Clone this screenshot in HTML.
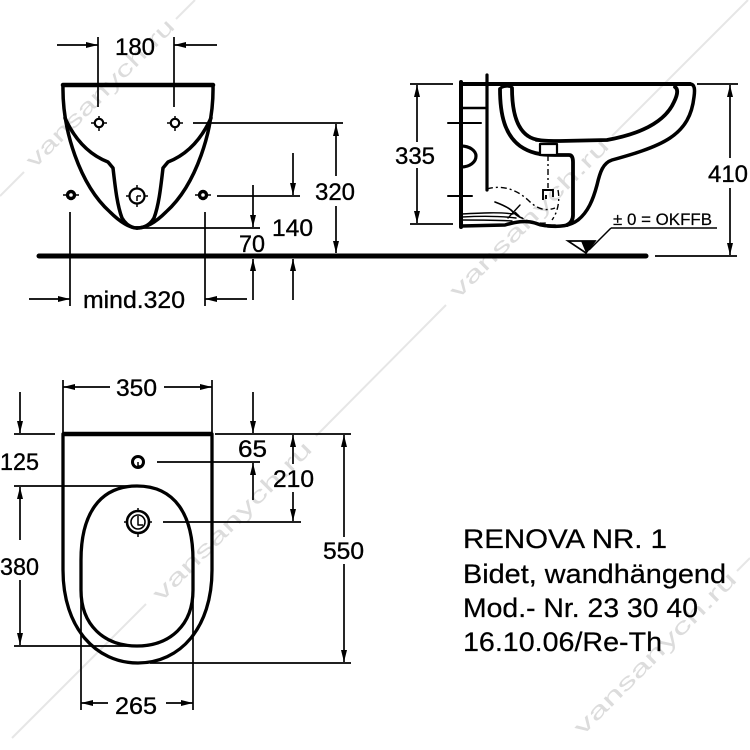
<!DOCTYPE html>
<html>
<head>
<meta charset="utf-8">
<style>
  html,body{margin:0;padding:0;background:#fff;}
  svg{display:block;}
</style>
</head>
<body>
<svg width="750" height="750" viewBox="0 0 750 750" xmlns="http://www.w3.org/2000/svg" font-family="'Liberation Sans', Arial, sans-serif">
  <defs>
    <marker id="a" viewBox="0 0 12 6" refX="12" refY="3" markerWidth="12" markerHeight="6" markerUnits="userSpaceOnUse" orient="auto">
      <path d="M0,0 L12,3 L0,6 z" fill="#000"/>
    </marker>
  </defs>
  <rect width="750" height="750" fill="#fff"/>

  <!-- watermarks -->
  <g stroke="#e6e6e6" stroke-width="2" fill="none">
    <line x1="0" y1="196" x2="24" y2="172"/>
    <line x1="176" y1="19" x2="195" y2="0"/>
    <line x1="12" y1="738" x2="146" y2="604"/>
    <line x1="316" y1="436" x2="446" y2="305"/>
    <line x1="612" y1="136" x2="748" y2="0"/>
    <line x1="737" y1="571" x2="750" y2="558"/>
  </g>
  <g fill="#dcdcdc" font-size="22">
    <text x="100" y="93" text-anchor="middle" dominant-baseline="central" transform="rotate(-45 100 93)" textLength="200" lengthAdjust="spacingAndGlyphs">vansanych.ru</text>
    <text x="232" y="521" text-anchor="middle" dominant-baseline="central" transform="rotate(-45 232 521)" textLength="215" lengthAdjust="spacingAndGlyphs">vansanych.ru</text>
    <text x="529" y="218" text-anchor="middle" dominant-baseline="central" transform="rotate(-45 529 218)" textLength="215" lengthAdjust="spacingAndGlyphs">vansanych.ru</text>
    <text x="655" y="653" text-anchor="middle" dominant-baseline="central" transform="rotate(-45 655 653)" textLength="220" lengthAdjust="spacingAndGlyphs">vansanych.ru</text>
  </g>

  <!-- ================= FRONT VIEW ================= -->
  <g stroke="#000" fill="none" stroke-width="1.7">
    <!-- 180 -->
    <line x1="57" y1="45" x2="98" y2="45" marker-end="url(#a)"/>
    <line x1="217" y1="45" x2="174" y2="45" marker-end="url(#a)"/>
    <line x1="98" y1="37" x2="98" y2="107"/>
    <line x1="174" y1="37" x2="174" y2="107"/>
    <!-- 320 -->
    <line x1="193" y1="123" x2="343" y2="123"/>
    <line x1="336" y1="176" x2="336" y2="124" marker-end="url(#a)"/>
    <line x1="336" y1="206" x2="336" y2="253" marker-end="url(#a)"/>
    <!-- 140 -->
    <line x1="217" y1="196" x2="300" y2="196"/>
    <line x1="293" y1="153" x2="293" y2="195" marker-end="url(#a)"/>
    <line x1="293" y1="300" x2="293" y2="259" marker-end="url(#a)"/>
    <!-- 70 -->
    <line x1="140" y1="228" x2="260" y2="228"/>
    <line x1="253" y1="185" x2="253" y2="227" marker-end="url(#a)"/>
    <line x1="253" y1="300" x2="253" y2="259" marker-end="url(#a)"/>
    <!-- mind.320 -->
    <line x1="70" y1="212" x2="70" y2="306"/>
    <line x1="205" y1="212" x2="205" y2="306"/>
    <line x1="29" y1="299" x2="70" y2="299" marker-end="url(#a)"/>
    <line x1="247" y1="299" x2="205" y2="299" marker-end="url(#a)"/>
  </g>

  <!-- bowl front -->
  <g stroke="#000" fill="none" stroke-linejoin="round" stroke-linecap="round">
    <line x1="63" y1="85" x2="213" y2="85" stroke-width="4.5"/>
    <path d="M63,85 C62,130 80,185 110,212 C120,222 130,228 137,228" stroke-width="3.5"/>
    <path d="M213,85 C214,130 196,185 166,212 C156,222 146,228 137,228" stroke-width="3.5"/>
    <path d="M65,118 C75,140 90,155 108,162 L113,168 C115,185 117,205 122,218 C126,225 132,228 137,228" stroke-width="3.5"/>
    <path d="M211,118 C201,140 186,155 168,162 L163,168 C161,185 159,205 154,218 C150,225 144,228 137,228" stroke-width="3.5"/>
  </g>
  <!-- holes front -->
  <g stroke="#000" fill="none">
    <circle cx="99" cy="123" r="4.2" stroke-width="2.2"/>
    <path d="M91,123 H95 M103,123 H107 M99,116 V119 M99,127 V131" stroke-width="1.5"/>
    <circle cx="175" cy="123" r="4.2" stroke-width="2.2"/>
    <path d="M167,123 H171 M179,123 H183 M175,116 V119 M175,127 V131" stroke-width="1.5"/>
    <circle cx="137" cy="196" r="7.5" stroke-width="2.2"/>
    <path d="M126,196 H130 M144,196 H148 M137,185 V189 M137,203 V207 M137,196 V201 M137,196 H141" stroke-width="1.5"/>
    <circle cx="71" cy="195" r="5.2" fill="#000" stroke="none"/>
    <circle cx="71" cy="195" r="1.8" fill="#fff" stroke="none"/>
    <path d="M63,195 H66 M76,195 H79" stroke-width="1.5"/>
    <circle cx="203" cy="195" r="5.2" fill="#000" stroke="none"/>
    <circle cx="203" cy="195" r="1.8" fill="#fff" stroke="none"/>
    <path d="M195,195 H198 M208,195 H211" stroke-width="1.5"/>
  </g>

  <!-- floor -->
  <line x1="39" y1="256" x2="646" y2="256" stroke="#000" stroke-width="5" stroke-linecap="round"/>

  <!-- front view texts -->
  <g font-size="24" fill="#000" stroke="#000" stroke-width="0.35">
    <text x="115" y="55" textLength="40" lengthAdjust="spacingAndGlyphs">180</text>
    <text x="315" y="200" textLength="40" lengthAdjust="spacingAndGlyphs">320</text>
    <text x="272" y="236" textLength="41" lengthAdjust="spacingAndGlyphs">140</text>
    <text x="239" y="252" textLength="26" lengthAdjust="spacingAndGlyphs">70</text>
    <text x="83" y="308" textLength="102" lengthAdjust="spacingAndGlyphs">mind.320</text>
  </g>

  <!-- ================= SIDE VIEW ================= -->
  <g stroke="#000" fill="none" stroke-width="1.7">
    <!-- 335 -->
    <line x1="410" y1="84" x2="453" y2="84"/>
    <line x1="410" y1="224" x2="453" y2="224"/>
    <line x1="417" y1="142" x2="417" y2="85" marker-end="url(#a)"/>
    <line x1="417" y1="168" x2="417" y2="223" marker-end="url(#a)"/>
    <!-- 410 -->
    <line x1="697" y1="84" x2="738" y2="84"/>
    <line x1="655" y1="256" x2="737" y2="256"/>
    <line x1="730" y1="158" x2="730" y2="85" marker-end="url(#a)"/>
    <line x1="730" y1="188" x2="730" y2="255" marker-end="url(#a)"/>
    <!-- OKFFB -->
    <line x1="611" y1="228" x2="717" y2="228" stroke-width="1.5"/>
    <line x1="611" y1="228" x2="589" y2="250" stroke-width="1.5"/>
  </g>
  <polygon points="568,241 595,241 586,253" fill="#fff" stroke="#000" stroke-width="1.7"/>
  <polygon points="581,241 596,241 586,253" fill="#000"/>

  <!-- side body -->
  <g stroke="#000" fill="none" stroke-linejoin="round" stroke-linecap="round">
    <line x1="461" y1="84" x2="690" y2="84" stroke-width="4"/>
    <line x1="461" y1="82" x2="461" y2="227" stroke-width="4"/>
    <path d="M690,84 C695,84 695,90 694,97 C692,115 685,128 670,138 C655,148 630,155 612,160 C603,163 600,172 597,185 C593,200 588,212 578,220 C570,226 560,227 548,226" stroke-width="3.5"/>
    <path d="M461,226 L505,225 C515,222 525,220 535,223 C542,226 548,226 555,226" stroke-width="3.5"/>
    <!-- inner bowl -->
    <path d="M512,88 C512,110 516,128 528,136 C535,141 545,141 560,141 L607,140 C640,134 665,122 674,102 C678,94 678,89 675,87" stroke-width="3.8"/>
    <path d="M500,89 C500,115 505,135 520,146 C530,153 540,155 555,155 L569,155 C572,155 573,158 573,162 L573,215 C573,220 571,223 567,225" stroke-width="3.8"/>
    <path d="M500,89 C501,86 511,85 512,88" stroke-width="3"/>
    <!-- left part -->
    <line x1="487" y1="75" x2="487" y2="190" stroke-width="3.2"/>
    <line x1="461" y1="108" x2="487" y2="108" stroke-width="2.5"/>
    <line x1="448" y1="123" x2="481" y2="123" stroke-width="2"/>
    <path d="M461,146 C470,146 476,151 476,156 C476,162 470,167 461,167" stroke-width="3.2"/>
    <path d="M448,196 H459 M463,196 H472" stroke-width="2"/>
    <!-- bottom lines -->
    <path d="M462,214 C480,213 500,212 513,214" stroke-width="1.4"/>
    <path d="M462,217 C480,216 500,216 516,218" stroke-width="1.4"/>
    <path d="M462,220 C480,220 498,220 512,221" stroke-width="1.4"/>
    <path d="M495,202 C503,205 510,208 513,212 C516,215 519,217 522,218" stroke-width="1.6"/>
    <path d="M508,218 L520,205" stroke-width="1.4"/>
    <!-- drain box -->
    <rect x="540" y="144" width="17" height="11" fill="#fff" stroke-width="2.2"/>
    <path d="M536,141 H545 M549,141 H559" stroke-width="1.6"/>
  </g>
  <g stroke="#000" fill="none" stroke-width="1.4" stroke-dasharray="6,3,2,3">
    <line x1="548" y1="155" x2="548" y2="188"/>
    <path d="M487,189 C500,185 515,188 528,200 C536,208 544,212 555,208"/>
    <path d="M515,212 C522,220 532,224 548,223"/>
    <path d="M558,190 C560,200 558,212 552,220"/>
  </g>
  <path d="M543,200 L543,190 L553,190 L553,197 M546,195 V199" stroke="#000" fill="none" stroke-width="1.9"/>

  <g fill="#000" stroke="#000" stroke-width="0.35">
    <text x="395" y="164" font-size="24" textLength="40" lengthAdjust="spacingAndGlyphs">335</text>
    <text x="708" y="182" font-size="24" textLength="40" lengthAdjust="spacingAndGlyphs">410</text>
    <text x="613" y="225" font-size="17" stroke-width="0.2" textLength="99" lengthAdjust="spacingAndGlyphs">± 0 = OKFFB</text>
  </g>

  <!-- ================= TOP (PLAN) VIEW ================= -->
  <g stroke="#000" fill="none" stroke-width="1.7">
    <!-- 350 -->
    <line x1="63" y1="380" x2="63" y2="434"/>
    <line x1="212" y1="380" x2="212" y2="434"/>
    <line x1="110" y1="387" x2="63" y2="387" marker-end="url(#a)"/>
    <line x1="164" y1="387" x2="212" y2="387" marker-end="url(#a)"/>
    <!-- 125 -->
    <line x1="20" y1="392" x2="20" y2="433" marker-end="url(#a)"/>
    <line x1="14" y1="434" x2="55" y2="434"/>
    <!-- 380 -->
    <line x1="14" y1="486" x2="135" y2="486"/>
    <line x1="14" y1="646" x2="135" y2="646"/>
    <line x1="20" y1="540" x2="20" y2="487" marker-end="url(#a)"/>
    <line x1="20" y1="580" x2="20" y2="645" marker-end="url(#a)"/>
    <!-- 65 -->
    <line x1="253" y1="392" x2="253" y2="433" marker-end="url(#a)"/>
    <line x1="215" y1="434" x2="351" y2="434"/>
    <line x1="157" y1="462" x2="260" y2="462"/>
    <line x1="253" y1="500" x2="253" y2="463" marker-end="url(#a)"/>
    <!-- 210 -->
    <line x1="293" y1="464" x2="293" y2="435" marker-end="url(#a)"/>
    <line x1="293" y1="492" x2="293" y2="521" marker-end="url(#a)"/>
    <line x1="163" y1="522" x2="301" y2="522"/>
    <!-- 550 -->
    <line x1="344" y1="537" x2="344" y2="435" marker-end="url(#a)"/>
    <line x1="344" y1="564" x2="344" y2="662" marker-end="url(#a)"/>
    <line x1="150" y1="663" x2="351" y2="663"/>
    <!-- 265 -->
    <line x1="81" y1="575" x2="81" y2="710"/>
    <line x1="193" y1="575" x2="193" y2="710"/>
    <line x1="108" y1="703" x2="81" y2="703" marker-end="url(#a)"/>
    <line x1="166" y1="703" x2="193" y2="703" marker-end="url(#a)"/>
  </g>

  <g stroke="#000" fill="none" stroke-linejoin="round">
    <path d="M63,434 L212,434 L212,570 C212,628 180,663 138,663 C96,663 63,628 63,570 Z" stroke-width="3.3"/>
    <line x1="63" y1="434" x2="212" y2="434" stroke-width="4.5"/>
    <path d="M137,486 C175,486 193,515 193,560 L193,590 C193,625 170,646 137,646 C104,646 81,625 81,590 L81,560 C81,515 99,486 137,486 Z" stroke-width="3.3"/>
    <!-- tap hole -->
    <circle cx="138" cy="462" r="5.5" stroke-width="3"/>
    <path d="M138,462 V466 H141" stroke-width="1.5"/>
    <!-- drain -->
    <circle cx="138" cy="522" r="11" stroke-width="2.6"/>
    <circle cx="138" cy="522" r="7" stroke-width="1.6"/>
    <path d="M124,522 H127 M149,522 H152 M138,508 V511 M138,533 V537 M138,516 V525 H143" stroke-width="1.5"/>
  </g>

  <g font-size="24" fill="#000" stroke="#000" stroke-width="0.35">
    <text x="116" y="396" textLength="41" lengthAdjust="spacingAndGlyphs">350</text>
    <text x="0" y="470" textLength="39" lengthAdjust="spacingAndGlyphs">125</text>
    <text x="0" y="575" textLength="39" lengthAdjust="spacingAndGlyphs">380</text>
    <text x="238" y="457" textLength="29" lengthAdjust="spacingAndGlyphs">65</text>
    <text x="273" y="487" textLength="41" lengthAdjust="spacingAndGlyphs">210</text>
    <text x="323" y="559" textLength="41" lengthAdjust="spacingAndGlyphs">550</text>
    <text x="115" y="714" textLength="42" lengthAdjust="spacingAndGlyphs">265</text>
  </g>

  <!-- title block -->
  <g font-size="27" fill="#000" stroke="#000" stroke-width="0.25">
    <text x="463" y="548" textLength="204" lengthAdjust="spacingAndGlyphs">RENOVA NR. 1</text>
    <text x="463" y="583" textLength="263" lengthAdjust="spacingAndGlyphs">Bidet, wandhängend</text>
    <text x="463" y="617" textLength="235" lengthAdjust="spacingAndGlyphs">Mod.- Nr. 23 30 40</text>
    <text x="463" y="651" textLength="199" lengthAdjust="spacingAndGlyphs">16.10.06/Re-Th</text>
  </g>
</svg>
</body>
</html>
